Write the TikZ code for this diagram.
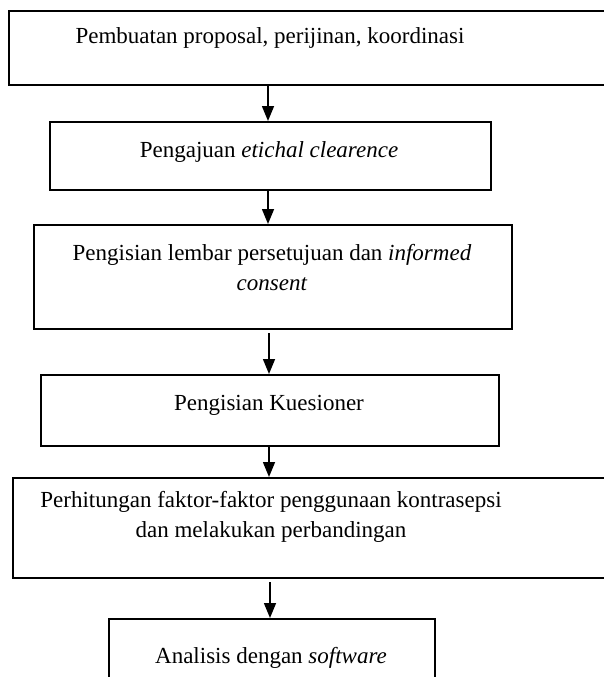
\documentclass[tikz,border=0pt]{standalone}
\usepackage{fontspec}
\setmainfont{Liberation Serif}
\usetikzlibrary{arrows.meta}
\tikzset{
  box/.style={draw=black, line width=1.8pt, rectangle, inner sep=0pt, anchor=north west},
  txt/.style={inner sep=0pt, anchor=base, align=center, font=\fontsize{23}{30}\selectfont},
  flow/.style={draw=black, line width=1.5pt, -{Triangle[width=12pt,length=15pt]}, shorten >=0pt}
}
\begin{document}
\begin{tikzpicture}[x=1pt,y=-1pt]
\useasboundingbox (0,0) rectangle (604,677);
\clip (0,0) rectangle (604,677);
\fill[white] (0,0) rectangle (604,677);
% boxes
\node[box, minimum width=612pt, minimum height=74pt] (b1) at (8,10) {};
\node[box, minimum width=441pt, minimum height=68pt] (b2) at (49,121) {};
\node[box, minimum width=478pt, minimum height=104pt] (b3) at (33,224) {};
\node[box, minimum width=458pt, minimum height=71pt] (b4) at (40,374) {};
\node[box, minimum width=603pt, minimum height=100pt] (b5) at (12,477) {};
\node[box, minimum width=326pt, minimum height=80pt] (b6) at (108,618) {};
% texts
\node[txt] (t1) at (270,44) {Pembuatan proposal, perijinan, koordinasi};
\node[txt] (t2) at (269,157) {Pengajuan \textit{etichal clearence}};
\node[txt] (t3) at (272,290) {Pengisian lembar persetujuan dan \textit{informed}\\\textit{consent}};
\node[txt] (t4) at (269,410) {Pengisian Kuesioner};
\node[txt] (t5) at (271,537) {Perhitungan faktor-faktor penggunaan kontrasepsi\\dan melakukan perbandingan};
\node[txt] (t6) at (271,663) {Analisis dengan \textit{software}};
% connectors
\coordinate (a1s) at (268,84);
\coordinate (a2s) at (268,189);
\coordinate (a3s) at (269,333);
\coordinate (a4s) at (269,445);
\coordinate (a5s) at (270,582);
\draw[flow] (a1s) -- (a1s |- b2.north);
\draw[flow] (a2s) -- (a2s |- b3.north);
\draw[flow] (a3s) -- (a3s |- b4.north);
\draw[flow] (a4s) -- (a4s |- b5.north);
\draw[flow] (a5s) -- (a5s |- b6.north);
\end{tikzpicture}
\end{document}
